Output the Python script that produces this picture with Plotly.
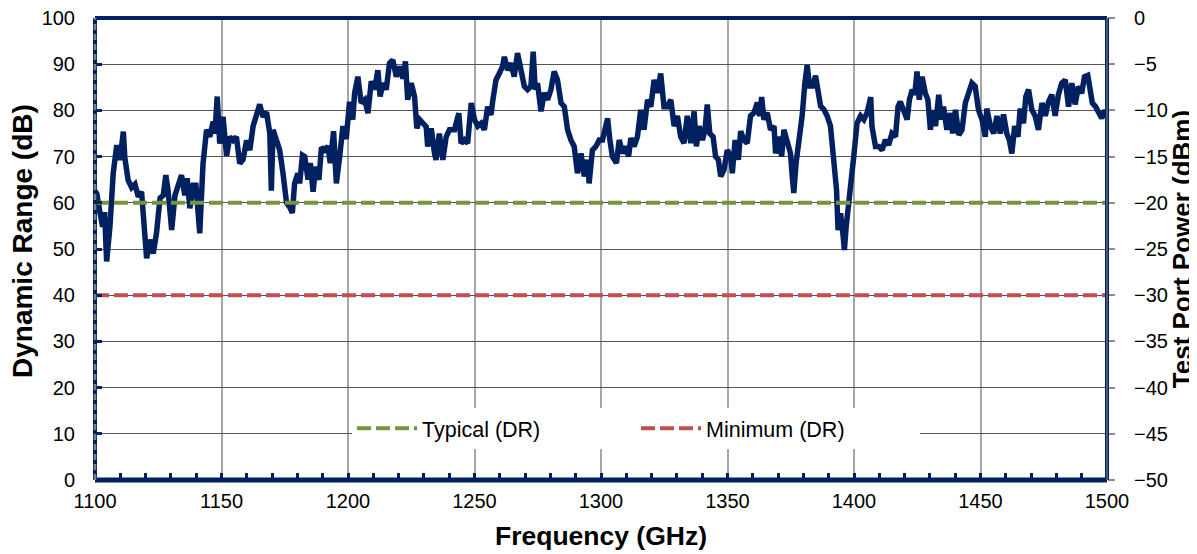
import plotly.graph_objects as go

# ---------------- data ----------------
freq_ghz = [1100.0, 1100.7, 1102.0, 1103.0, 1103.8, 1104.6, 1105.9, 1107.2, 1108.6, 1109.9,
            1111.2, 1111.8, 1113.1, 1114.5, 1115.8, 1117.1, 1118.4, 1119.7, 1120.4, 1121.7,
            1123.0, 1124.3, 1125.7, 1127.0, 1128.0, 1128.9, 1130.3, 1131.6, 1132.9, 1134.2,
            1135.5, 1136.4, 1137.5, 1138.8, 1139.9, 1141.4, 1142.7, 1144.1, 1145.4, 1146.7,
            1147.4, 1148.3, 1149.3, 1150.6, 1152.0, 1153.3, 1154.6, 1155.9, 1157.2, 1158.5,
            1159.9, 1161.2, 1162.5, 1163.8, 1165.1, 1166.4, 1167.8, 1169.1, 1169.7, 1170.4,
            1171.7, 1173.0, 1174.3, 1175.7, 1177.0, 1178.0, 1178.9, 1180.2, 1180.9, 1182.0,
            1182.9, 1184.2, 1185.1, 1186.2, 1187.2, 1188.5, 1189.5, 1190.8, 1192.1, 1193.0,
            1194.3, 1195.4, 1196.7, 1198.0, 1199.3, 1200.6, 1201.9, 1202.6, 1203.9, 1205.2,
            1206.6, 1207.9, 1209.2, 1210.5, 1211.8, 1212.7, 1213.8, 1215.1, 1216.4, 1217.7,
            1219.1, 1220.4, 1221.7, 1222.7, 1223.6, 1225.0, 1226.3, 1227.2, 1228.3, 1229.6,
            1230.9, 1231.5, 1232.9, 1234.2, 1234.8, 1236.1, 1237.5, 1238.8, 1240.1, 1242.1,
            1243.8, 1244.7, 1246.0, 1247.3, 1248.7, 1250.0, 1251.3, 1252.6, 1253.9, 1255.2,
            1256.5, 1257.2, 1258.5, 1259.8, 1261.1, 1261.8, 1263.1, 1264.4, 1265.7, 1267.0,
            1268.4, 1269.7, 1271.0, 1272.3, 1273.2, 1274.0, 1274.9, 1276.3, 1277.6, 1278.9,
            1280.2, 1281.5, 1282.8, 1284.2, 1285.5, 1286.8, 1288.1, 1289.4, 1290.7, 1292.1,
            1293.4, 1294.7, 1295.3, 1296.6, 1298.0, 1299.3, 1300.6, 1301.9, 1302.6, 1303.5,
            1304.5, 1306.1, 1307.2, 1308.5, 1309.8, 1310.9, 1311.8, 1313.1, 1314.4, 1315.7,
            1317.0, 1318.4, 1319.7, 1321.0, 1322.3, 1323.6, 1324.9, 1326.2, 1327.6, 1328.9,
            1330.2, 1331.5, 1332.8, 1334.1, 1335.5, 1336.8, 1337.7, 1338.8, 1340.1, 1341.1,
            1342.0, 1343.0, 1344.3, 1345.3, 1346.4, 1347.3, 1348.6, 1349.9, 1351.3, 1351.9,
            1353.0, 1354.3, 1355.2, 1356.5, 1357.8, 1359.1, 1360.5, 1361.8, 1362.7, 1363.5,
            1364.4, 1365.7, 1367.0, 1368.4, 1369.0, 1370.3, 1371.4, 1372.3, 1373.6, 1374.9,
            1375.6, 1376.2, 1377.1, 1378.5, 1379.5, 1380.6, 1381.5, 1382.4, 1383.7, 1384.8,
            1385.8, 1386.8, 1388.1, 1389.4, 1390.7, 1392.0, 1393.1, 1393.7, 1394.7, 1395.6,
            1396.2, 1396.9, 1397.9, 1399.0, 1399.9, 1401.2, 1402.6, 1403.9, 1405.2, 1406.6,
            1407.1, 1408.5, 1409.8, 1411.1, 1412.4, 1413.7, 1415.0, 1416.4, 1417.4, 1418.3,
            1419.7, 1421.0, 1421.9, 1423.0, 1424.0, 1424.9, 1425.8, 1426.9, 1428.2, 1429.2,
            1430.2, 1431.1, 1432.2, 1433.5, 1434.5, 1435.4, 1436.7, 1438.1, 1439.0, 1440.1,
            1441.4, 1442.7, 1444.0, 1445.3, 1446.6, 1447.9, 1449.2, 1450.6, 1451.9, 1452.5,
            1453.9, 1455.2, 1456.5, 1457.8, 1459.1, 1460.4, 1461.4, 1462.4, 1463.5, 1464.8,
            1465.7, 1467.0, 1467.9, 1469.0, 1470.3, 1471.6, 1472.9, 1474.3, 1475.6, 1476.9,
            1478.2, 1479.5, 1480.8, 1482.1, 1483.5, 1484.8, 1486.1, 1487.4, 1488.7, 1490.0,
            1491.1, 1492.4, 1493.3, 1494.2, 1495.5, 1496.9, 1497.9, 1499.0, 1500.0]

dynamic_range_db = [62.5, 62.0, 57.8, 54.8, 58.0, 47.3, 54.8, 66.4, 72.5, 69.3,
                    75.4, 69.7, 64.9, 63.3, 64.0, 61.3, 62.4, 54.8, 48.0, 52.0,
                    49.0, 53.4, 61.0, 61.6, 66.0, 62.6, 54.1, 61.6, 63.4, 66.0,
                    61.6, 65.3, 58.8, 63.8, 63.8, 53.4, 68.5, 75.8, 74.3, 77.6,
                    75.0, 83.0, 72.8, 78.6, 70.2, 74.3, 73.5, 74.3, 68.5, 69.3,
                    73.5, 71.4, 76.6, 78.6, 81.3, 78.6, 79.6, 75.0, 62.6, 75.8,
                    73.5, 71.4, 66.4, 60.0, 59.0, 57.8, 64.2, 66.4, 64.2, 70.3,
                    70.0, 65.0, 68.6, 62.4, 67.8, 65.0, 72.0, 71.4, 72.2, 68.6,
                    75.5, 64.2, 70.0, 76.6, 73.8, 81.9, 78.0, 83.7, 87.3, 81.6,
                    82.3, 79.4, 86.3, 84.5, 88.7, 83.0, 85.9, 84.5, 90.2, 90.9,
                    87.3, 89.5, 86.9, 90.6, 82.3, 85.9, 83.0, 76.1, 78.0, 77.2,
                    76.5, 72.2, 76.1, 70.7, 69.3, 75.0, 69.3, 74.3, 75.8, 75.8,
                    79.4, 72.9, 73.6, 72.9, 81.6, 78.0, 76.6, 77.2, 75.8, 80.8,
                    79.0, 82.0, 86.6, 88.0, 89.5, 91.6, 88.7, 90.2, 87.3, 92.4,
                    88.0, 85.2, 84.5, 85.2, 92.7, 84.5, 85.9, 79.8, 83.8, 82.3,
                    84.5, 88.4, 86.6, 81.6, 80.8, 75.8, 73.6, 72.2, 66.4, 70.7,
                    65.7, 69.3, 64.2, 71.4, 72.2, 73.6, 73.6, 76.6, 78.3, 73.6,
                    70.0, 68.6, 73.6, 70.7, 72.2, 70.0, 74.0, 72.2, 74.3, 80.1,
                    75.8, 82.3, 80.8, 86.6, 83.8, 88.0, 80.8, 80.8, 82.3, 76.6,
                    78.8, 74.3, 72.9, 78.8, 72.9, 79.8, 72.2, 76.6, 73.6, 75.8,
                    81.3, 75.0, 74.3, 70.0, 69.3, 65.7, 67.1, 71.4, 70.0, 66.4,
                    73.6, 69.3, 75.5, 73.6, 72.9, 78.8, 79.5, 81.7, 78.8, 82.9,
                    78.0, 79.5, 75.8, 76.6, 70.7, 74.3, 70.0, 75.8, 72.9, 70.7,
                    65.7, 62.1, 68.6, 73.6, 78.8, 86.0, 89.8, 85.3, 85.3, 87.5,
                    84.6, 80.9, 80.2, 78.8, 76.6, 70.0, 62.8, 54.1, 57.7, 53.4,
                    49.8, 54.8, 59.2, 64.2, 70.0, 77.2, 78.8, 78.0, 79.5, 82.9,
                    76.6, 72.2, 72.2, 71.4, 73.6, 72.5, 75.0, 74.3, 80.8, 81.9,
                    79.8, 78.0, 82.3, 84.5, 83.4, 88.4, 82.3, 87.3, 83.7, 82.3,
                    75.8, 80.1, 76.6, 83.4, 78.0, 80.8, 75.8, 79.4, 75.0, 80.1,
                    74.7, 75.8, 81.6, 83.8, 85.9, 85.2, 80.1, 78.0, 74.3, 80.4,
                    76.6, 75.0, 78.8, 75.0, 79.1, 75.0, 73.6, 70.7, 76.6, 74.3,
                    80.4, 77.2, 83.0, 84.5, 80.1, 78.8, 75.8, 81.6, 78.8, 81.9,
                    83.4, 78.8, 83.4, 85.9, 86.6, 80.8, 85.9, 81.3, 85.2, 83.7,
                    87.3, 87.6, 85.2, 81.6, 80.8, 79.4, 78.3, 80.0, 79.0]

limit_freqs = [1100, 1500]
typical_dr = 60
minimum_dr = 40

x_ticks = [1100, 1150, 1200, 1250, 1300, 1350, 1400, 1450, 1500]
y_ticks = [0, 10, 20, 30, 40, 50, 60, 70, 80, 90, 100]
y2_ticks = [-50, -45, -40, -35, -30, -25, -20, -15, -10, -5, 0]

NAVY = "#002060"
GREEN = "#77933C"
RED = "#C0504D"
FONT = "Liberation Sans, Arial, sans-serif"

fig = go.Figure()

fig.add_trace(go.Scatter(
    x=freq_ghz, y=dynamic_range_db, mode="lines",
    line=dict(color=NAVY, width=5.5), showlegend=False, name="Dynamic Range"))

fig.add_trace(go.Scatter(
    x=limit_freqs, y=[typical_dr] * len(limit_freqs), mode="lines",
    line=dict(color=GREEN, width=4, dash="14px,5px"), name="Typical (DR)"))

fig.add_trace(go.Scatter(
    x=limit_freqs, y=[minimum_dr] * len(limit_freqs), mode="lines",
    line=dict(color=RED, width=4, dash="14px,5px"), name="Minimum (DR)"))

# empty trace to activate the right axis
fig.add_trace(go.Scatter(x=[], y=[], yaxis="y2", showlegend=False, hoverinfo="skip"))


def border(x0, y0, x1, y1, color, width, dash="solid"):
    return dict(type="line", xref="paper", yref="paper", x0=x0, y0=y0, x1=x1, y1=y1,
                line=dict(color=color, width=width, dash=dash), layer="above")


# the page body adds an 8px offset, so the figure is sized to fit the window
fig.update_layout(
    width=1189, height=546,
    margin=dict(l=87, r=90, t=10, b=74, autoexpand=False),
    paper_bgcolor="white", plot_bgcolor="white",
    font=dict(family=FONT, size=20, color="black"),
    xaxis=dict(
        range=[1100, 1500], tickvals=x_ticks, ticks="inside", ticklen=7,
        tickwidth=3, tickcolor=NAVY,
        minor=dict(dtick=10, tick0=1100, ticks="inside", ticklen=7, tickwidth=3,
                   tickcolor=NAVY, showgrid=False),
        showgrid=True, gridcolor="#A6A6A6", gridwidth=2,
        showline=False, zeroline=False, ticklabelstandoff=7, automargin=False,
        ticklabeloverflow="allow",
        title=dict(text="<b>Frequency (GHz)</b>", font=dict(size=26.5), standoff=15),
    ),
    yaxis=dict(
        range=[0, 100], tickvals=y_ticks, ticks="inside", ticklen=7, tickwidth=3,
        tickcolor=NAVY, showgrid=True, gridcolor="#555555", gridwidth=1.3,
        showline=False, zeroline=False, ticklabelstandoff=19, automargin=False,
        ticklabeloverflow="allow",
    ),
    yaxis2=dict(
        range=[-50, 0], tickvals=y2_ticks, overlaying="y", side="right",
        ticks="outside", ticklen=7, tickwidth=1.5, tickcolor="#8C8C8C",
        showgrid=False, zeroline=False, ticklabelstandoff=15, automargin=False,
        ticklabeloverflow="allow",
        title=dict(text="<b>Test Port Power (dBm)</b>", font=dict(size=26), standoff=12),
    ),
    annotations=[
        dict(text="<b>Dynamic Range (dB)</b>", xref="paper", yref="paper",
             x=0, y=0.5, xanchor="center", yanchor="middle", xshift=-73, yshift=8,
             textangle=-90, showarrow=False, font=dict(size=28)),
    ],
    legend=dict(
        orientation="h", x=0.5346, xanchor="center", y=0.112, yanchor="middle",
        bgcolor="white", font=dict(size=21.5), itemwidth=60,
        entrywidth=209, entrywidthmode="pixels",
        traceorder="normal",
    ),
    shapes=[
        dict(type="rect", xref="paper", yref="paper", x0=0.165, x1=0.84,
             y0=0.05, y1=0.169, fillcolor="white", line=dict(width=0),
             layer="between"),
        border(0, 1, 1, 1, NAVY, 4),
        border(0, 0, 1, 0, NAVY, 5),
        border(1, 0, 1, 1, NAVY, 4),
        border(0, 0, 0, 1, NAVY, 4),
        border(0, 0, 0, 1, "#808080", 2.5, "6px,4px"),
        border(1, 0, 1, 1, "#7F7F7F", 1.2),
    ],
)

fig.write_html("out.html")
